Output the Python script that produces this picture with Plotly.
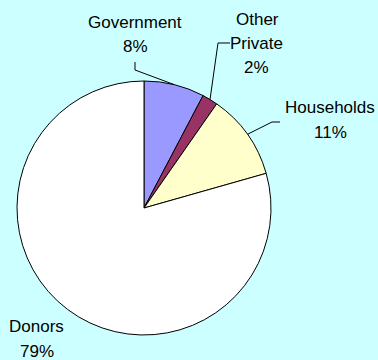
import math
import plotly.graph_objects as go

categories = ["Government", "Other Private", "Households", "Donors"]
values = [7.7, 2.0, 10.9, 79.4]
pct_labels = ["8%", "2%", "11%", "79%"]
colors = ["#9999FF", "#993366", "#FFFFCC", "#FFFFFF"]

W, H = 378, 360
CX, CY, R = 144, 208, 127  # pie centre / radius in pixels


def px(x):
    return x / W


def py(y):
    return 1 - y / H


fig = go.Figure(go.Pie(
    labels=categories,
    values=values,
    sort=False,
    direction="clockwise",
    rotation=0,
    marker=dict(colors=colors, line=dict(color="#000000", width=1)),
    textinfo="none",
    hoverinfo="label+percent",
    showlegend=False,
    domain=dict(x=[px(CX - R), px(CX + R)], y=[py(CY + R), py(CY - R)]),
))

# slice mid-angle rim points computed from data
total = sum(values)
cum = 0
rim = []
for v in values:
    mid = (cum + v / 2) / total * 2 * math.pi
    rim.append((CX + R * math.sin(mid), CY - R * math.cos(mid)))
    cum += v

# label line positions (pixels): list of (x, y) per text line
label_lines = [
    [(135, 22, categories[0]), (135, 47, pct_labels[0])],
    [(257, 19, "Other"), (256, 43, "Private"), (256, 67, pct_labels[1])],
    [(330, 107, categories[2]), (330, 132, pct_labels[2])],
    [(36, 326, categories[3]), (37, 351, pct_labels[3])],
]

annotations = []
for lines in label_lines:
    for (x, y, t) in lines:
        annotations.append(dict(
            x=px(x), y=py(y), xref="paper", yref="paper", text=t,
            showarrow=False, xanchor="center", yanchor="middle",
            font=dict(family="Liberation Sans, Arial, sans-serif", size=17, color="#000000"),
        ))

# leader line elbows (pixels)
elbows = [
    [(135, 62), (135, 70)],
    [(230, 43), (218, 43)],
    [(280, 122), (272, 122)],
    None,
]

shapes = []
for i, el in enumerate(elbows):
    if el is None:
        continue
    pts = el + [rim[i]]
    path = "M " + " L ".join(f"{px(x):.5f},{py(y):.5f}" for x, y in pts)
    shapes.append(dict(type="path", xref="paper", yref="paper", path=path,
                       line=dict(color="#000000", width=1)))

fig.update_layout(
    width=W, height=H,
    margin=dict(l=0, r=0, t=0, b=0),
    paper_bgcolor="#CCFFFF",
    plot_bgcolor="#CCFFFF",
    annotations=annotations,
    shapes=shapes,
)

fig.write_html("out.html")
